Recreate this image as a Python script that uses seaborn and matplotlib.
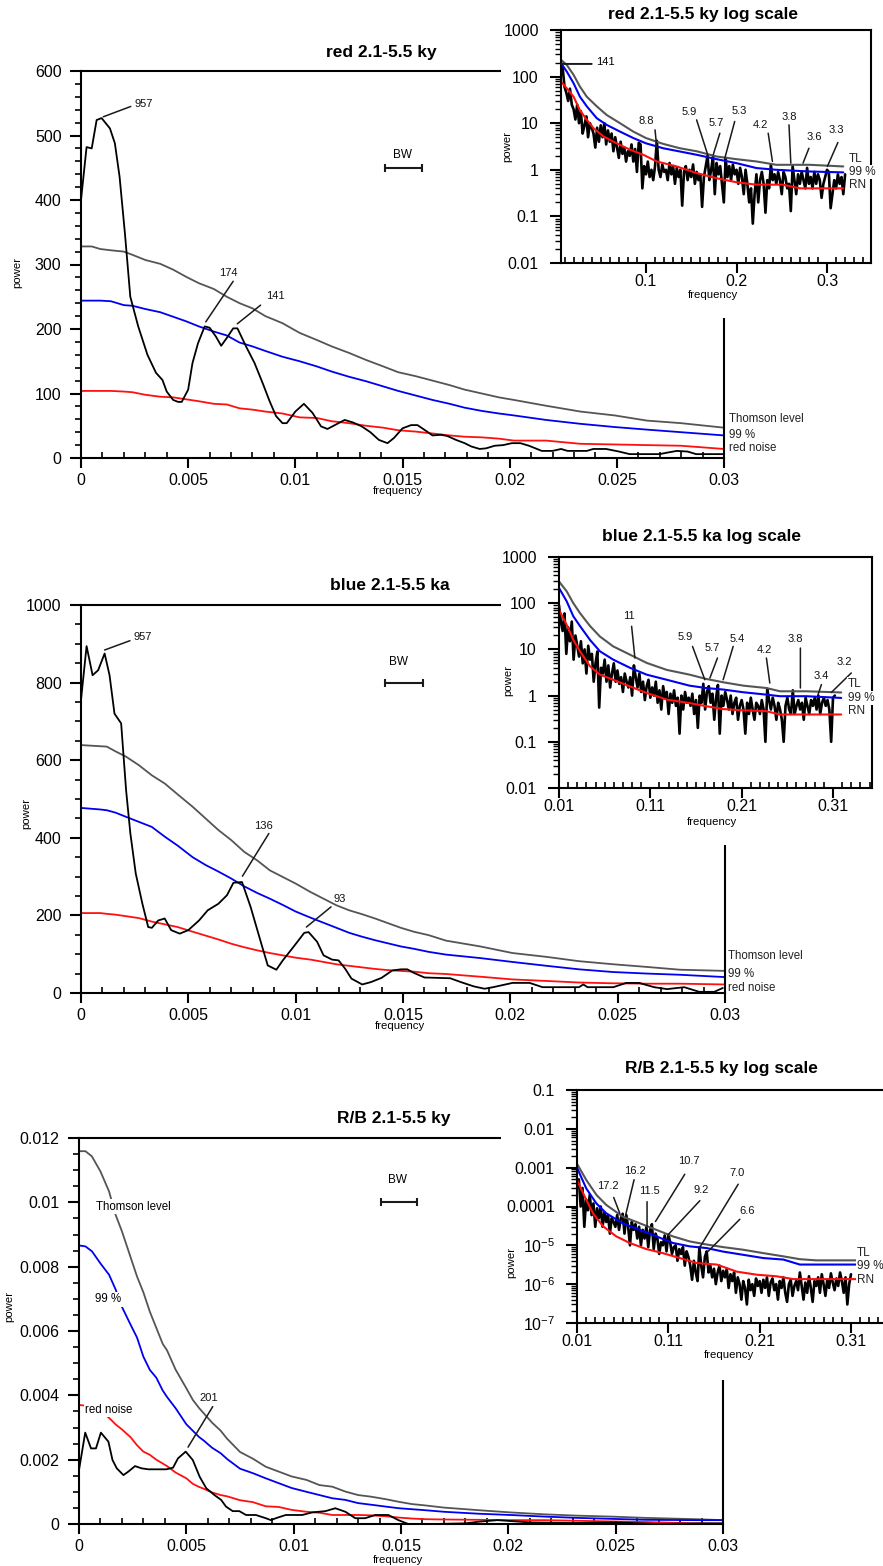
import numpy as np
import matplotlib
matplotlib.use('Agg')
import matplotlib.pyplot as plt
from matplotlib.ticker import (MultipleLocator, FixedLocator, FuncFormatter,
                               LogLocator, NullFormatter)
from matplotlib.patches import Rectangle
import seaborn as sns

sns.set_theme(style='ticks')
plt.rcParams['font.family'] = ['Liberation Sans', 'DejaVu Sans']
plt.rcParams['mathtext.fontset'] = 'custom'
plt.rcParams['mathtext.rm'] = 'Liberation Sans'
plt.rcParams['mathtext.it'] = 'Liberation Sans:italic'
plt.rcParams['mathtext.bf'] = 'Liberation Sans:bold'
for k in ['text.color', 'axes.labelcolor', 'xtick.color', 'ytick.color', 'axes.edgecolor']:
    plt.rcParams[k] = 'black'

GREY, BLUE, RED, BLACK = '#555555', '#0000f0', '#ff1010', '#000000'

# ---------------- main panel 1 : red 2.1-5.5 ky ----------------
p1_freq = [0, 0.00026, 0.0005, 0.00073, 0.00096, 0.00135, 0.00158, 0.0018, 0.00205, 0.0023,
           0.00267, 0.0031, 0.0035, 0.0038, 0.004, 0.0043, 0.00453, 0.0047, 0.005, 0.0052,
           0.00546, 0.00577, 0.006, 0.0063, 0.00654, 0.0068, 0.0071, 0.0073, 0.0077, 0.0081,
           0.0085, 0.0088, 0.0091, 0.0094, 0.0096, 0.01, 0.0104, 0.0108, 0.0112, 0.0115,
           0.0119, 0.0123, 0.0127, 0.0131, 0.0135, 0.0139, 0.0143, 0.0146, 0.015, 0.0154,
           0.0157, 0.0161, 0.0164, 0.0168, 0.0171, 0.0175, 0.0179, 0.0182, 0.0186, 0.0189,
           0.0193, 0.0197, 0.0201, 0.0205, 0.0209, 0.0215, 0.0220, 0.0224, 0.0227, 0.0236,
           0.0239, 0.0245, 0.0251, 0.0256, 0.0270, 0.0273, 0.0278, 0.0283, 0.0287, 0.0300]
p1_power = [400, 482, 480, 524, 527, 511, 488, 436, 348, 250,
            204, 160, 132, 121, 103, 90, 87, 87, 106, 147,
            178, 204, 202, 188, 174, 186, 201, 201, 173, 147,
            114, 88, 65, 54, 54, 72, 84, 70, 49, 45,
            52, 59, 55, 49, 40, 28, 23, 31, 46, 51,
            51, 42, 35, 36, 34, 28, 23, 18, 14, 15,
            19, 20, 23, 23, 19, 11, 11, 14, 11, 11,
            14, 14, 10, 6, 6, 8, 11, 10, 6, 6]
p1_lev_freq = [0, 0.0005, 0.0009, 0.0014, 0.002, 0.0024, 0.003, 0.0037, 0.0043, 0.0049,
               0.0055, 0.0062, 0.0068, 0.0074, 0.008, 0.0086, 0.0094, 0.0102, 0.011, 0.0117,
               0.0125, 0.0133, 0.0141, 0.0148, 0.0156, 0.0164, 0.0172, 0.0179, 0.0187, 0.0195,
               0.0202, 0.0217, 0.0233, 0.0249, 0.0264, 0.028, 0.03]
p1_thomson = [328, 328, 324, 322, 320, 315, 307, 301, 292, 281,
              271, 262, 250, 240, 232, 220, 209, 194, 183, 173,
              163, 152, 142, 133, 127, 120, 113, 106, 100, 94,
              90, 81, 72, 66, 58, 54, 47]
p1_99 = [244, 244, 244, 243, 237, 236, 231, 226, 219, 212,
         204, 196, 190, 179, 173, 166, 157, 150, 142, 134,
         126, 119, 111, 104, 97, 90, 84, 78, 73, 69,
         66, 59, 53, 48, 44, 40, 35]
p1_rednoise = [104, 104, 104, 104, 103, 102, 98, 95, 94, 91,
               88, 84, 83, 77, 75, 72, 69, 63, 62, 57,
               54, 50, 47, 43, 41, 38, 35, 33, 32, 30,
               27, 27, 22, 21, 20, 19, 14]

# ---------------- main panel 2 : blue 2.1-5.5 ka ----------------
p2_freq = [0, 0.00026, 0.00054, 0.0008, 0.0011, 0.00133, 0.00156, 0.00187, 0.0021, 0.0023,
           0.00255, 0.00286, 0.00313, 0.0033, 0.0036, 0.0039, 0.0042, 0.0046, 0.005, 0.0055,
           0.0059, 0.0064, 0.0068, 0.0071, 0.0075, 0.0079, 0.0084, 0.0087, 0.0091, 0.0094,
           0.0099, 0.0104, 0.0106, 0.011, 0.0113, 0.0117, 0.012, 0.0123, 0.0126, 0.0131,
           0.0135, 0.014, 0.0145, 0.0149, 0.0152, 0.0155, 0.016, 0.0172, 0.0177, 0.0183,
           0.0188, 0.0192, 0.0201, 0.0209, 0.0215, 0.0232, 0.0234, 0.0236, 0.0248, 0.0254,
           0.026, 0.0267, 0.0273, 0.0281, 0.0288, 0.0295, 0.0299]
p2_power = [755, 894, 819, 832, 875, 819, 720, 695, 523, 411,
            308, 230, 170, 168, 187, 192, 162, 153, 162, 187,
            213, 230, 252, 284, 286, 222, 127, 71, 60, 84,
            119, 155, 157, 132, 97, 86, 84, 63, 37, 22,
            28, 39, 58, 61, 61, 52, 40, 38, 28, 17,
            11, 15, 26, 26, 15, 15, 22, 15, 15, 26,
            26, 15, 10, 15, 3, 3, 13]
p2_lev_freq = [0, 0.0009, 0.0012, 0.0016, 0.0021, 0.0027, 0.0033, 0.0039, 0.0045, 0.0052,
               0.0058, 0.0064, 0.007, 0.0076, 0.0082, 0.0088, 0.0094, 0.01, 0.0107, 0.0113,
               0.0119, 0.0125, 0.0131, 0.0137, 0.0143, 0.0149, 0.0155, 0.0162, 0.017, 0.0186,
               0.0201, 0.0217, 0.0232, 0.0248, 0.0264, 0.0279, 0.03]
p2_thomson = [639, 636, 635, 623, 609, 587, 561, 540, 512, 480,
              450, 420, 394, 364, 342, 316, 299, 282, 260, 243,
              226, 213, 203, 192, 180, 168, 158, 149, 135, 120,
              103, 93, 82, 74, 67, 60, 57]
p2_99 = [477, 473, 471, 465, 454, 441, 428, 403, 380, 350,
         330, 313, 295, 275, 258, 243, 227, 210, 194, 181,
         168, 155, 145, 136, 128, 120, 114, 106, 99, 90,
         80, 70, 61, 54, 50, 47, 41]
p2_rednoise = [206, 206, 204, 202, 198, 193, 184, 177, 170, 158,
               148, 138, 127, 118, 110, 103, 97, 91, 86, 80,
               74, 70, 66, 62, 59, 57, 55, 51, 49, 42,
               35, 31, 27, 25, 24, 24, 22]

# ---------------- main panel 3 : R/B 2.1-5.5 ky ----------------
p3_freq = [0, 0.00029, 0.00056, 0.00079, 0.00102, 0.00137, 0.00156, 0.00176, 0.00207, 0.0023,
           0.00261, 0.00292, 0.00323, 0.00407, 0.00438, 0.00461, 0.00497, 0.0053, 0.00562, 0.00593,
           0.00631, 0.00662, 0.00685, 0.00716, 0.00747, 0.00778, 0.00824, 0.0087, 0.00894, 0.00917,
           0.00963, 0.0104, 0.01086, 0.01148, 0.01194, 0.01241, 0.01287, 0.01333, 0.0138, 0.01441,
           0.01488, 0.01534, 0.0165, 0.018, 0.0186, 0.0195, 0.021, 0.023, 0.025, 0.027,
           0.029, 0.03]
p3_power = [0.00168, 0.00284, 0.00235, 0.00235, 0.00284, 0.00256, 0.00199, 0.00173, 0.00152, 0.00163,
            0.0018, 0.00173, 0.0017, 0.0017, 0.00175, 0.00204, 0.00225, 0.00199, 0.00147, 0.00111,
            0.0009, 0.00075, 0.00054, 0.0004, 0.0004, 0.00028, 0.00028, 0.00018, 0.00012, 0.00018,
            0.00028, 0.00028, 0.00036, 0.0004, 0.00049, 0.00038, 0.00018, 0.00018, 0.00028, 0.00028,
            0.00012, 0.0, 0.0, 0.00002, 0.00007, 0.00012, 0.00005, 0.00003, 0.00005, 0.0,
            0.00002, 0.00002]
p3_lev_freq = [0, 0.0003, 0.0006, 0.001, 0.0014, 0.0017, 0.002, 0.0024, 0.0027, 0.003,
               0.0033, 0.0036, 0.0039, 0.0041, 0.0045, 0.005, 0.0053, 0.0056, 0.0058, 0.0062,
               0.0066, 0.0069, 0.0075, 0.0081, 0.0087, 0.0093, 0.0099, 0.0106, 0.0112, 0.0118,
               0.0124, 0.013, 0.0136, 0.0143, 0.0149, 0.0155, 0.0161, 0.017, 0.0186, 0.0201,
               0.0217, 0.0232, 0.0248, 0.0264, 0.0287, 0.03]
p3_thomson = [0.01159, 0.01159, 0.01143, 0.01096, 0.01034, 0.00962, 0.0091, 0.0083, 0.0077, 0.0072,
              0.0066, 0.0061, 0.0056, 0.0054, 0.0048, 0.00422, 0.00386, 0.0036, 0.00345, 0.00315,
              0.0029, 0.00265, 0.00224, 0.00203, 0.00178, 0.00163, 0.00148, 0.00137, 0.00121, 0.00116,
              0.00101, 0.0009, 0.00085, 0.00077, 0.00069, 0.00062, 0.00058, 0.00051, 0.00043, 0.00036,
              0.0003, 0.00026, 0.00023, 0.00019, 0.00015, 0.00012]
p3_99 = [0.00866, 0.00863, 0.00848, 0.0081, 0.00775, 0.0073, 0.00675, 0.0062, 0.0058, 0.0052,
         0.00479, 0.00455, 0.00415, 0.00395, 0.0036, 0.0031, 0.0029, 0.0027, 0.0026, 0.00237,
         0.0022, 0.00202, 0.00172, 0.00158, 0.00142, 0.00127, 0.00112, 0.001, 0.0009, 0.0008,
         0.00075, 0.00065, 0.0006, 0.00054, 0.00049, 0.00046, 0.00043, 0.00038, 0.00032, 0.00028,
         0.00023, 0.00019, 0.00016, 0.00013, 0.00012, 0.00012]
p3_rednoise = [0.0037, 0.00368, 0.0036, 0.0035, 0.0033, 0.0031, 0.00294, 0.0027, 0.00245, 0.00225,
               0.00215, 0.002, 0.00188, 0.0018, 0.0016, 0.00142, 0.00125, 0.00115, 0.0011, 0.00098,
               0.0009, 0.00086, 0.00074, 0.00068, 0.00055, 0.00053, 0.00044, 0.00038, 0.00035, 0.00028,
               0.00028, 0.00028, 0.00027, 0.00024, 0.0002, 0.00017, 0.00015, 0.00014, 0.00013, 0.00012,
               0.00012, 0.0001, 0.00008, 0.00006, 0.00002, 0.00001]

# ---------------- inset 1 : red log scale ----------------
in1_freq = np.arange(0.006, 0.3201, 0.002)
in1_power = [200, 150, 60, 45, 30, 55, 25, 20,
             12, 25, 10, 18, 6, 9, 14, 5, 10, 8,
             6, 3, 8, 4, 9, 5, 10, 3.5, 7, 4,
             6, 2.5, 5, 3, 1.8, 4, 2.2, 3, 1.5, 2.5,
             2, 3.5, 1.5, 2.8, 0.9, 3.8, 3.5, 0.4, 1.2, 0.8,
             1.5, 0.7, 1.0, 0.6, 1.2, 4.2, 1.0, 0.7, 1.3, 0.9,
             1.0, 0.6, 1.4, 0.8, 1.2, 0.5, 1.1, 0.7, 1.0, 0.17,
             0.9, 1.2, 0.6, 1.0, 0.7, 1.3, 0.5, 0.9, 0.6, 0.8,
             0.16, 0.7, 1.2, 2.0, 0.6, 1.0, 1.9, 0.3, 1.4, 0.8,
             1.2, 0.5, 0.2, 1.8, 0.7, 1.2, 0.6, 1.3, 0.8, 1.0,
             0.5, 1.1, 0.7, 0.3, 1.0, 0.5, 0.2, 0.4, 0.07, 0.3,
             0.8, 0.2, 0.6, 0.9, 0.5, 0.12, 0.6, 0.4, 1.3, 0.6,
             0.8, 0.5, 0.9, 0.6, 0.3, 0.9, 0.7, 0.4, 0.5, 0.13,
             1.2, 0.6, 0.3, 0.8, 0.5, 0.9, 0.6, 0.4, 1.1, 0.5,
             0.7, 0.4, 0.9, 0.5, 0.8, 0.6, 0.25, 0.5, 0.7, 1.0,
             0.9, 0.15, 0.3, 0.6, 0.4, 0.8, 0.5, 0.7, 0.3, 0.8]
in1_lev_freq = [0.0062, 0.0125, 0.02, 0.027, 0.0346, 0.0456, 0.0566, 0.0713, 0.086, 0.1,
                0.119, 0.1375, 0.156, 0.178, 0.2, 0.222, 0.244, 0.281, 0.318]
in1_thomson = [228, 178, 109, 61, 37, 23, 15, 10, 6.6, 4.8,
               3.6, 2.9, 2.5, 1.93, 1.69, 1.51, 1.28, 1.28, 1.18]
in1_99 = [193, 128, 72, 37, 23, 12.8, 9.2, 6.6, 4.8, 3.7,
          2.9, 2.47, 2.1, 1.69, 1.39, 1.09, 1.0, 0.92, 0.88]
in1_rn_freq = [0.0062, 0.0125, 0.02, 0.027, 0.0346, 0.042, 0.053, 0.0676, 0.0824, 0.097,
               0.112, 0.134, 0.156, 0.178, 0.2, 0.222, 0.251, 0.27, 0.318]
in1_rednoise = [78, 56, 37, 19, 11.8, 7.8, 5.2, 3.7, 2.7, 2.1,
                1.51, 1.18, 0.85, 0.66, 0.54, 0.48, 0.48, 0.40, 0.40]

# ---------------- inset 2 : blue log scale ----------------
in2_freq = np.arange(0.010, 0.3121, 0.002)
in2_power = [90, 40,
             25, 60, 8, 30, 15, 40, 6, 20, 12, 7,
             15, 5, 10, 3, 12, 6, 8, 2, 5, 9,
             0.55, 4, 3, 6, 2, 4.5, 1.5, 3, 5, 2,
             3.5, 1.8, 2.5, 1.2, 3, 2, 1.5, 2.5, 1.0, 4.5,
             2.5, 1.5, 3, 1.2, 2, 0.8, 1.6, 2.2, 0.9, 1.5,
             1.0, 2.0, 0.7, 1.3, 0.5, 1.6, 0.9, 1.2, 0.4, 1.1,
             0.7, 1.3, 0.6, 0.9, 0.15, 1.0, 0.5, 1.2, 0.7, 0.9,
             0.6, 1.1, 0.4, 0.8, 0.2, 1.0, 0.7, 1.8, 0.5, 1.2,
             1.6, 0.7, 1.1, 0.3, 0.9, 1.7, 0.15, 1.0, 0.6, 1.2,
             0.8, 0.5, 1.0, 0.4, 0.7, 0.9, 0.3, 0.6, 0.8, 0.5,
             0.15, 0.7, 0.4, 0.9, 0.5, 0.3, 0.7, 0.6, 0.4, 0.8,
             0.5, 0.1, 1.4, 0.8, 0.5, 0.9, 0.6, 0.3, 0.7, 0.5,
             0.3, 0.1, 0.6, 0.9, 0.5, 0.4, 1.3, 0.4, 0.6, 0.8,
             0.5, 0.7, 0.3, 0.9, 0.6, 0.4, 0.8, 0.6, 0.9, 0.5,
             1.0, 0.4, 0.7, 0.9, 0.6, 0.8, 0.5, 0.1, 0.9, 1.0]
in2_lev_freq = [0.01, 0.0184, 0.0257, 0.033, 0.044, 0.0548, 0.0694, 0.0877, 0.106, 0.128,
                0.153, 0.171, 0.19, 0.212, 0.237, 0.252, 0.281, 0.319]
in2_thomson = [295, 181, 100, 61, 32, 19, 11.6, 7.7, 5.1, 3.6,
               2.84, 2.3, 1.94, 1.64, 1.46, 1.24, 1.24, 1.17]
in2_99 = [214, 110, 52, 32, 16, 9.1, 6.0, 4.0, 2.84, 2.2,
          1.64, 1.46, 1.35, 1.18, 1.05, 0.97, 0.97, 0.89]
in2_rednoise = [72, 34, 16, 9.1, 4.3, 2.84, 2.2, 1.58, 1.14, 0.82,
                0.69, 0.59, 0.51, 0.48, 0.46, 0.39, 0.39, 0.39]

# ---------------- inset 3 : R/B log scale ----------------
in3_freq = np.arange(0.010, 0.3101, 0.002)
in3_power = [4e-4,
             5e-4, 1e-4, 3e-4, 3e-5, 1.5e-4, 8e-5, 2e-4, 6e-5, 1.2e-4, 3e-5,
             9e-5, 5e-5, 1e-4, 3e-5, 7e-5, 4e-5, 6e-5, 2e-5, 5e-5, 4e-5,
             3e-5, 6e-5, 2.5e-5, 5e-5, 6.5e-5, 2e-5, 6e-5, 3e-5, 1e-5, 4e-5,
             2.5e-5, 3.5e-5, 1.5e-5, 3e-5, 1e-5, 2.5e-5, 1.5e-5, 3e-5, 9e-6, 2.5e-5,
             3.5e-5, 8e-6, 2e-5, 1.5e-5, 6e-6, 1.2e-5, 1e-5, 1.8e-5, 7e-6, 1.9e-5,
             1.2e-5, 6e-6, 9e-6, 1e-5, 4e-6, 8e-6, 6e-6, 9e-6, 3e-6, 7e-6,
             5e-6, 3e-6, 1.3e-6, 4e-6, 2e-6, 1.2e-6, 9e-6, 3e-6, 1.5e-6, 5e-6,
             7e-6, 2e-6, 3e-6, 1.5e-6, 2.5e-6, 1e-6, 2e-6, 3e-6, 1.2e-6, 2.2e-6,
             1.5e-6, 2.5e-6, 8e-7, 1.8e-6, 1.2e-6, 2e-6, 6e-7, 1.5e-6, 1e-6, 4e-7,
             1.2e-6, 8e-7, 3e-7, 1.3e-6, 7e-7, 1e-6, 5e-7, 1.4e-6, 9e-7, 1.2e-6,
             6e-7, 1.3e-6, 8e-7, 1.5e-6, 5e-7, 1.1e-6, 1.4e-6, 7e-7, 1e-6, 4e-7,
             1.2e-6, 8e-7, 1.5e-6, 6e-7, 3.5e-7, 1e-6, 1.3e-6, 5e-7, 9e-7, 1.2e-6,
             7e-7, 2e-6, 9e-7, 4e-7, 1.1e-6, 6e-7, 1.6e-6, 8e-7, 3.5e-7, 1.2e-6,
             9e-7, 1.5e-6, 6e-7, 1.8e-6, 1e-6, 5e-7, 1.3e-6, 8e-7, 1.9e-6, 1.1e-6,
             7e-7, 1.4e-6, 9e-7, 2e-6, 1.2e-6, 6e-7, 1.5e-6, 3e-7, 1e-6, 1.8e-6]
in3_lev_freq = [0.01, 0.0202, 0.0312, 0.042, 0.06, 0.0787, 0.097, 0.115, 0.1335, 0.152,
                0.17, 0.192, 0.214, 0.236, 0.254, 0.272, 0.318]
in3_thomson = [1.26e-3, 4.8e-4, 2.0e-4, 1.1e-4, 5.5e-5, 3.7e-5, 2.5e-5, 1.7e-5, 1.26e-5, 1.05e-5,
               9.0e-6, 7.7e-6, 6.3e-6, 5.2e-6, 4.4e-6, 4.1e-6, 4.1e-6]
in3_99 = [1.0e-3, 2.9e-4, 1.2e-4, 6.7e-5, 3.7e-5, 2.5e-5, 1.7e-5, 1.15e-5, 9.4e-6, 8.5e-6,
          6.9e-6, 5.7e-6, 4.7e-6, 4.3e-6, 3.2e-6, 3.2e-6, 3.2e-6]
in3_rn_freq = [0.01, 0.0184, 0.0275, 0.0385, 0.053, 0.0677, 0.086, 0.104, 0.1225, 0.141,
               0.163, 0.185, 0.207, 0.228, 0.247, 0.318]
in3_rednoise = [4.8e-4, 1.8e-4, 6.7e-5, 3.1e-5, 1.7e-5, 1.15e-5, 8.0e-6, 6.3e-6, 4.7e-6, 3.5e-6,
                3.2e-6, 2.1e-6, 1.75e-6, 1.6e-6, 1.35e-6, 1.35e-6]

# ---------------- peak labels: (label, text x, text y, line x1, y1, x2, y2) ----------------
p1_peaks = [("957", 0.00294, 549, 0.00104, 529, 0.00232, 545),
            ("174", 0.00687, 287, 0.00582, 211, 0.0071, 274),
            ("141", 0.00905, 251, 0.00729, 208, 0.00838, 237)]
p2_peaks = [("957", 0.00289, 918, 0.0011, 884, 0.00228, 908),
            ("136", 0.00852, 430, 0.00752, 301, 0.00875, 411),
            ("93", 0.01203, 243, 0.0105, 170, 0.01165, 222)]
p3_peaks = [("201", 0.00605, 0.00393, 0.00508, 0.00239, 0.00623, 0.00365)]
in1_peaks = [("8.8", 0.1, 11.4, 0.1118, 3.16, 0.11, 7.2),
             ("5.9", 0.1478, 17.2, 0.1688, 1.93, 0.1559, 11.8),
             ("5.7", 0.1772, 10.0, 0.1743, 2.1, 0.1816, 6.1),
             ("5.3", 0.203, 18.4, 0.1871, 1.78, 0.198, 10.9),
             ("4.2", 0.2268, 9.2, 0.2397, 1.51, 0.235, 6.1),
             ("3.8", 0.258, 13.9, 0.26, 1.39, 0.258, 9.2),
             ("3.6", 0.286, 5.0, 0.2735, 1.39, 0.28, 2.9),
             ("3.3", 0.31, 7.2, 0.3004, 1.18, 0.312, 3.85)]
in2_peaks = [("11", 0.0866, 53.7, 0.0931, 6.5, 0.0895, 31.6),
             ("5.9", 0.1478, 18.5, 0.1697, 2.2, 0.1562, 11.6),
             ("5.7", 0.1777, 10.7, 0.1752, 2.4, 0.1835, 6.5),
             ("5.4", 0.205, 16.8, 0.1897, 2.2, 0.2007, 11.6),
             ("4.2", 0.2346, 9.9, 0.2408, 1.87, 0.2371, 6.5),
             ("3.8", 0.2692, 16.8, 0.2743, 1.46, 0.2743, 10.7),
             ("3.4", 0.2973, 2.6, 0.2936, 1.05, 0.2973, 1.73),
             ("3.2", 0.3221, 5.25, 0.3082, 1.17, 0.33, 3.09)]
in3_peaks = [("17.2", 0.044, 3.4e-4, 0.0568, 6.7e-5, 0.0502, 1.71e-4),
             ("16.2", 0.0739, 8.2e-4, 0.0633, 6.1e-5, 0.0725, 4.9e-4),
             ("11.5", 0.0889, 2.5e-4, 0.0867, 3.05e-5, 0.0867, 1.33e-4),
             ("10.7", 0.1324, 1.48e-3, 0.0959, 4.1e-5, 0.128, 6.76e-4),
             ("9.2", 0.1456, 2.6e-4, 0.1097, 1.87e-5, 0.1445, 1.41e-4),
             ("7.0", 0.1857, 7.3e-4, 0.1445, 8.9e-6, 0.1865, 3.75e-4),
             ("6.6", 0.1963, 7.8e-5, 0.1536, 7.0e-6, 0.1883, 4.7e-5)]

W, H = 883, 1566
fig = plt.figure(figsize=(W / 100, H / 100), dpi=100)


def rect(l, t, r, b):
    return [l / W, 1 - b / H, (r - l) / W, (b - t) / H]


def ftext(x, y, s, **kw):
    return fig.text(x / W, 1 - y / H, s, **kw)


def line(ax, x, y, color, lw):
    sns.lineplot(x=np.asarray(x, float)[:len(y)], y=np.asarray(y, float), ax=ax,
                 color=color, linewidth=lw, estimator=None, sort=False, legend=False)


def leaders(ax, items, fs=8):
    for lab, tx, ty, x1, y1, x2, y2 in items:
        ax.annotate('', xy=(x1, y1), xytext=(x2, y2),
                    arrowprops=dict(arrowstyle='-', color='k', lw=1.1,
                                    shrinkA=0, shrinkB=0))
        ax.text(tx, ty, lab, ha='center', va='center', fontsize=fs, color='#111111')


def style_spines(ax):
    for sp in ax.spines.values():
        sp.set_visible(True)
        sp.set_linewidth(1.5)
        sp.set_color('black')
    ax.set_xlabel('')
    ax.set_ylabel('')
    ax.grid(False)


gfmt = FuncFormatter(lambda v, p: '%g' % round(v, 8))


def main_panel(pos, fb, pb, fl, tl, l99, rn, ymax, ymaj, ymin, peaks):
    ax = fig.add_axes(rect(*pos))
    ax.set_zorder(0)
    line(ax, fl, tl, GREY, 1.3)
    line(ax, fl, l99, BLUE, 1.3)
    line(ax, fl, rn, RED, 1.3)
    line(ax, fb, pb, BLACK, 1.3)
    ax.set_xlim(0, 0.03)
    ax.set_ylim(0, ymax)
    ax.xaxis.set_major_locator(MultipleLocator(0.005))
    ax.xaxis.set_minor_locator(MultipleLocator(0.001))
    ax.yaxis.set_major_locator(MultipleLocator(ymaj))
    ax.yaxis.set_minor_locator(MultipleLocator(ymin))
    ax.xaxis.set_major_formatter(gfmt)
    ax.yaxis.set_major_formatter(gfmt)
    ax.tick_params(axis='x', which='major', direction='out', length=7, width=1.5,
                   labelsize=11.5, pad=4, bottom=True, top=False)
    ax.tick_params(axis='x', which='minor', direction='in', length=4, width=1.2,
                   bottom=True, top=False)
    ax.tick_params(axis='y', which='major', direction='out', length=8, width=1.5,
                   labelsize=11.5, pad=6, left=True, right=False)
    ax.tick_params(axis='y', which='minor', direction='out', length=4, width=1.2,
                   left=True, right=False)
    style_spines(ax)
    leaders(ax, peaks)
    return ax


def inset(pos, fb, pb, flev, tl, l99, frn, rn, xlim, ylim, xmaj, peaks, fmt):
    ax = fig.add_axes(rect(*pos))
    ax.set_zorder(2)
    ax.set_facecolor('white')
    line(ax, fb, pb, BLACK, 1.9)
    line(ax, flev, tl, GREY, 1.5)
    line(ax, flev, l99, BLUE, 1.5)
    line(ax, frn, rn, RED, 1.5)
    ax.set_yscale('log')
    ax.set_xlim(*xlim)
    ax.set_ylim(*ylim)
    ax.xaxis.set_major_locator(FixedLocator(xmaj))
    ax.xaxis.set_minor_locator(MultipleLocator(0.01))
    ax.xaxis.set_major_formatter(gfmt)
    ax.yaxis.set_major_locator(LogLocator(base=10, numticks=20))
    ax.yaxis.set_minor_locator(LogLocator(base=10, subs=np.arange(2, 10), numticks=200))
    ax.yaxis.set_major_formatter(FuncFormatter(fmt))
    ax.yaxis.set_minor_formatter(NullFormatter())
    ax.tick_params(axis='x', which='major', direction='out', length=7, width=1.5,
                   labelsize=11.5, pad=1, bottom=True, top=False)
    ax.tick_params(axis='x', which='minor', direction='in', length=4, width=1.2,
                   bottom=True, top=False)
    ax.tick_params(axis='y', which='major', direction='out', length=8, width=1.5,
                   labelsize=11.5, pad=8, left=True, right=False)
    ax.tick_params(axis='y', which='minor', direction='out', length=4, width=1.0,
                   left=True, right=False)
    style_spines(ax)
    leaders(ax, peaks)
    return ax


def fmt12(v, p):
    return '%g' % v


def fmt3(v, p):
    e = int(round(np.log10(v)))
    if e >= -4:
        return '%g' % v
    return r'$\mathregular{10^{%d}}$' % e


# white backgrounds behind the insets (cover the main frames)
for (l, t, r, b) in [(501, 0, 883, 318), (501, 515, 883, 845), (501, 1050, 883, 1380)]:
    fig.add_artist(Rectangle((l / W, 1 - b / H), (r - l) / W, (b - t) / H,
                             transform=fig.transFigure, facecolor='white',
                             edgecolor='none', zorder=1))

ax1 = main_panel((81, 71, 724, 458), p1_freq, p1_power, p1_lev_freq, p1_thomson, p1_99,
                 p1_rednoise, 600, 100, 20, p1_peaks)
ax2 = main_panel((81, 605, 725, 993), p2_freq, p2_power, p2_lev_freq, p2_thomson, p2_99,
                 p2_rednoise, 1000, 200, 50, p2_peaks)
ax3 = main_panel((79, 1138, 723, 1524), p3_freq, p3_power, p3_lev_freq, p3_thomson, p3_99,
                 p3_rednoise, 0.012, 0.002, 0.0005, p3_peaks)

# bandwidth markers
for ax, (a, b, y, tx, ty) in [(ax1, (0.0142, 0.0159, 450, 0.01498, 470)),
                              (ax2, (0.01416, 0.01593, 800, 0.01481, 852)),
                              (ax3, (0.01407, 0.01575, 0.01, 0.01482, 0.0107))]:
    ax.plot([a, b], [y, y], color='k', lw=1.5, marker='|', markersize=6, markeredgewidth=1.5)
    ax.text(tx, ty, 'BW', ha='center', va='center', fontsize=8.5)

# right-side level labels of main panels
for (y1, y2, y3, x) in [(419, 435, 448, 729), (956, 974, 988, 728)]:
    for s, yy in [('Thomson level', y1), ('99 %', y2), ('red noise', y3)]:
        ftext(x, yy, s, fontsize=8.3, ha='left', va='center', color='#222222',
              bbox=dict(facecolor='white', edgecolor='none', pad=0.5))

# panel 3 in-plot level labels
wb = dict(facecolor='white', edgecolor='none', pad=1)
ax3.text(0.0008, 0.00987, 'Thomson level', fontsize=8.3, ha='left', va='center', bbox=wb)
ax3.text(0.00137, 0.00699, '99 %', fontsize=8.3, ha='center', va='center', bbox=wb)
ax3.text(0.0003, 0.00355, 'red noise', fontsize=8.3, ha='left', va='center', bbox=wb)

in1 = inset((561, 30, 871, 263), in1_freq, in1_power, in1_lev_freq, in1_thomson, in1_99,
            in1_rn_freq, in1_rednoise, (0.0061, 0.3486), (0.01, 1000), [0.1, 0.2, 0.3],
            in1_peaks, fmt12)
in1.annotate('', xy=(0.0062, 187), xytext=(0.04, 187),
             arrowprops=dict(arrowstyle='-', color='k', lw=1.4, shrinkA=0, shrinkB=0))
in1.text(0.0445, 205, '141', fontsize=8, ha='left', va='center')

in2 = inset((559, 557, 872, 788), in2_freq, in2_power, in2_lev_freq, in2_thomson, in2_99,
            in2_lev_freq, in2_rednoise, (0.01, 0.3527), (0.01, 1000), [0.01, 0.11, 0.21, 0.31],
            in2_peaks, fmt12)
in3 = inset((577, 1090, 890, 1323), in3_freq, in3_power, in3_lev_freq, in3_thomson, in3_99,
            in3_rn_freq, in3_rednoise, (0.01, 0.3527), (1e-7, 0.1), [0.01, 0.11, 0.21, 0.31],
            in3_peaks, fmt3)

# inset right labels
for (x, ys) in [(849, (159, 172, 185)), (848, (684, 698, 711)), (857, (1253, 1266, 1280))]:
    for s, yy in zip(['TL', '99 %', 'RN'], ys):
        t = ftext(x, yy, s, fontsize=8.5, ha='left', va='center', color='#222222',
                  bbox=dict(facecolor='white', edgecolor='none', pad=0.5))
        t.set_zorder(5)

# titles
for s, x, y in [('red 2.1-5.5 ky', 381, 52), ('blue 2.1-5.5 ka', 390, 585),
                ('R/B 2.1-5.5 ky', 394, 1118),
                ('red 2.1-5.5 ky log scale', 703, 14), ('blue 2.1-5.5 ka log scale', 702, 537),
                ('R/B 2.1-5.5 ky log scale', 721, 1069)]:
    ftext(x, y, s, fontsize=12.5, fontweight='bold', ha='center', va='center', zorder=6)

# axis labels
for x, y in [(398, 491), (400, 1026), (398, 1560), (713, 295), (712, 822), (729, 1355)]:
    ftext(x, y, 'frequency', fontsize=8.2, ha='center', va='center', zorder=6)
for x, y in [(17, 273), (26, 813), (9, 1307), (507, 147), (508, 680), (511, 1262)]:
    ftext(x, y, 'power', fontsize=8.2, ha='center', va='center', rotation=90, zorder=6)

fig.savefig('out.png', dpi=100, facecolor='white')
